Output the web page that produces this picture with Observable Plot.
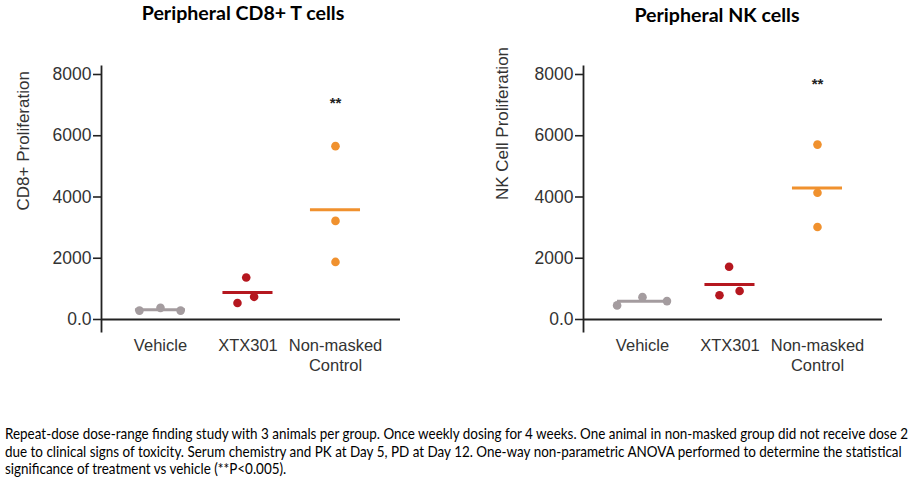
<!DOCTYPE html>
<html><head><meta charset="utf-8">
<script src="https://cdn.jsdelivr.net/npm/d3@7"></script>
<script src="https://cdn.jsdelivr.net/npm/@observablehq/plot@0.6"></script>
<style>
body{margin:0;background:#fff;}
#wrap{position:relative;width:914px;height:484px;overflow:hidden;background:#fff;}
.title{position:absolute;font-family:Lato,"Open Sans",sans-serif;font-weight:700;font-size:19.6px;line-height:1.2;color:#000;white-space:nowrap;transform:translateX(-50%);}
.chart{position:absolute;top:0;}
#caption{position:absolute;left:5px;top:425px;font-family:Lato,"Open Sans",sans-serif;font-size:14.7px;line-height:17.6px;color:#000;white-space:nowrap;transform-origin:0 0;display:inline-block;}
</style></head><body>
<div id="wrap">
  <div class="title" style="left:243px;top:1px">Peripheral CD8+ T cells</div>
  <div class="title" style="left:717px;top:3px">Peripheral NK cells</div>
  <div class="chart" id="c1" style="left:0px"></div>
  <div class="chart" id="c2" style="left:482px"></div>
  <div id="caption">Repeat-dose dose-range finding study with 3 animals per group. Once weekly dosing for 4 weeks. One animal in non-masked group did not receive dose 2<br>due to clinical signs of toxicity. Serum chemistry and PK at Day 5, PD at Day 12. One-way non-parametric ANOVA performed to determine the statistical<br>significance of treatment vs vehicle (**P&lt;0.005).</div>
</div>
<script>
// ---- data ----
const groups = ["Vehicle", "XTX301", "Non-masked\nControl"];
const groupColors = ["#a49c9f", "#b5171f", "#f0912e"];
const yTicks = [0, 2000, 4000, 6000, 8000];

// one entry per animal (group index, value, horizontal scatter offset)
const animalGroup = [0, 0, 0, 1, 1, 1, 2, 2, 2];
const cd8Values  = [290, 380, 290, 1370, 540, 740, 5660, 3220, 1880];
const cd8Spread  = [-0.24, 0, 0.23, -0.02, -0.12, 0.07, 0, 0, 0];
const nkValues   = [460, 730, 600, 1720, 790, 930, 5710, 4140, 3020];
const nkSpread   = [-0.29, 0, 0.28, -0.01, -0.12, 0.11, 0, 0, 0];

// significance markers
const sigGroup = [2];
const sigText = ["**"];
const cd8SigY = [7050];
const nkSigY = [7690];

const cd8Label = "CD8+ Proliferation";
const nkLabel = "NK Cell Proliferation";

// ---- chart builder ----
function makeChart(values, spread, sigY, yLabel, labelDx, labelDy) {
  const pts = values.map((v, i) => ({g: animalGroup[i], v, s: spread[i]}));
  const means = groups.map((_, g) => ({g, mean: d3.mean(pts.filter(p => p.g === g), p => p.v)}));
  const sig = sigGroup.map((g, i) => ({g, v: sigY[i], t: sigText[i]}));
  const hw = 0.286; // half-length of mean bar in x units
  return Plot.plot({
    width: 432, height: 380,
    marginLeft: 101, marginRight: 32, marginTop: 66, marginBottom: 49,
    style: {fontFamily: "'Liberation Sans', Arial, sans-serif", color: "#333", background: "transparent"},
    x: {domain: [-0.674, 2.743]},
    y: {domain: [-392, 8261]},
    color: {domain: [0, 1, 2], range: groupColors},
    marks: [
      Plot.axisY(yTicks, {tickSize: 8, tickPadding: 2, fontSize: 17.5, label: null, stroke: "#222", strokeWidth: 1.6,
        tickFormat: d => d === 0 ? "0.0" : String(d)}),
      Plot.axisX([0, 1, 2], {tickSize: 0, tickPadding: 5, fontSize: 16.5, lineHeight: 1.21, label: null,
        tickFormat: i => groups[i]}),
      Plot.frame({anchor: "left", stroke: "#222", strokeWidth: 1.8}),
      Plot.ruleY([0], {stroke: "#222", strokeWidth: 2}),
      Plot.ruleY(means, {y: "mean", x1: d => d.g - hw, x2: d => d.g + hw, stroke: "g", strokeWidth: 3}),
      Plot.dot(pts, {x: d => d.g + d.s, y: "v", r: 4.3, fill: "g"}),
      Plot.text(sig, {x: "g", y: "v", text: "t", fontSize: 15, fontWeight: "bold", fill: "#222"}),
      Plot.text([yLabel], {text: d => d, frameAnchor: "left", rotate: -90, dx: labelDx, dy: labelDy, fontSize: 17, fill: "#333"})
    ]
  });
}

document.getElementById("c1").append(makeChart(cd8Values, cd8Spread, cd8SigY, cd8Label, -77.5, 11.5));
document.getElementById("c2").append(makeChart(nkValues, nkSpread, nkSigY, nkLabel, -81, 1));

// fit caption's widest line to the reference width
const cap = document.getElementById("caption");
const capW = cap.getBoundingClientRect().width;
cap.style.transform = `scaleX(${Math.min(1, 903 / capW)})`;
</script>
</body></html>
